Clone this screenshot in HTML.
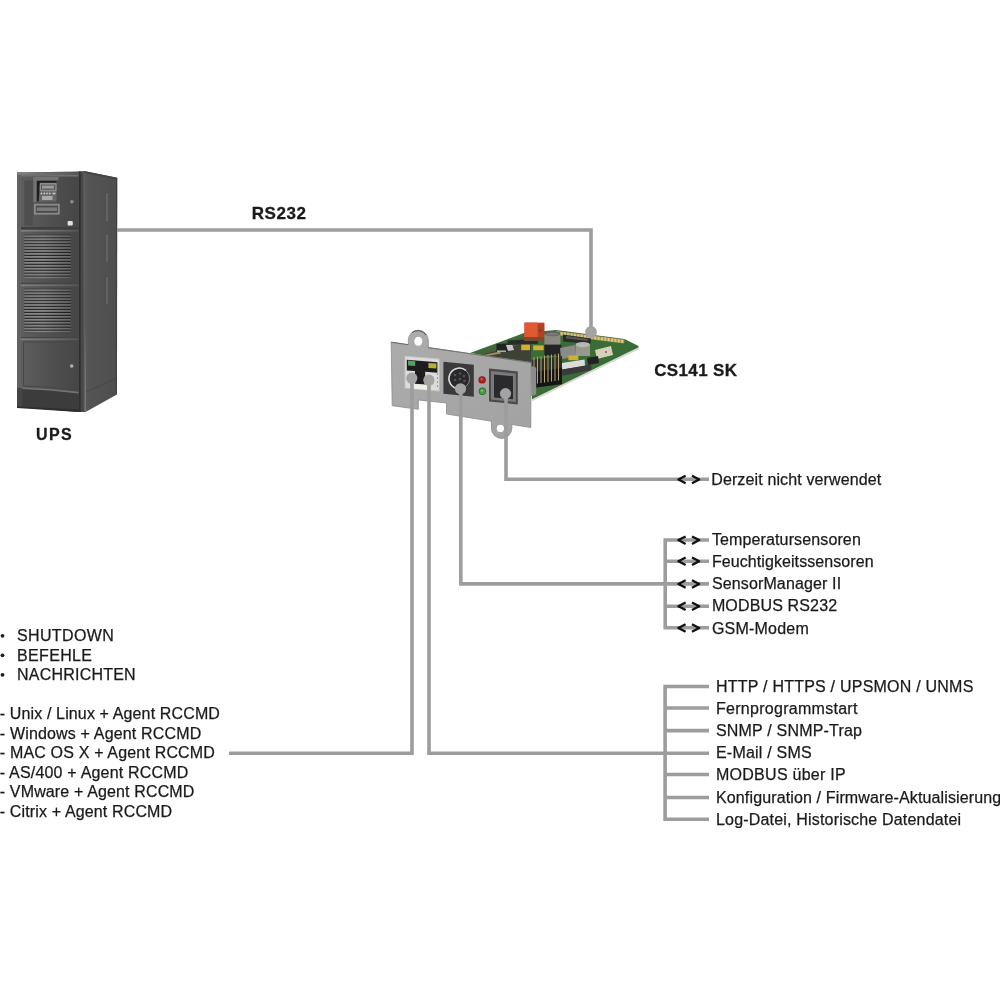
<!DOCTYPE html>
<html><head><meta charset="utf-8">
<style>
html,body{margin:0;padding:0;background:#fff;width:1000px;height:1000px;overflow:hidden}
svg{display:block;will-change:transform}
text{font-family:"Liberation Sans",sans-serif;fill:#1a1a1a;stroke:#1a1a1a;stroke-width:0.25px}
.b{font-weight:bold;stroke-width:0.3px}
</style></head><body>
<svg width="1000" height="1000" viewBox="0 0 1000 1000">
<defs>
  <linearGradient id="upsSide" x1="0" y1="0" x2="1" y2="0">
    <stop offset="0" stop-color="#5a5a5a"/><stop offset="0.15" stop-color="#545454"/><stop offset="1" stop-color="#4e4e4e"/>
  </linearGradient>
  <linearGradient id="panelG" x1="0" y1="0" x2="1" y2="0">
    <stop offset="0" stop-color="#5e5e5e"/><stop offset="0.5" stop-color="#505050"/><stop offset="1" stop-color="#464646"/>
  </linearGradient>
  <linearGradient id="hiG" x1="0" y1="0" x2="1" y2="0">
    <stop offset="0" stop-color="#808080"/><stop offset="0.6" stop-color="#6a6a6a"/><stop offset="1" stop-color="#555"/>
  </linearGradient>
  <linearGradient id="slatG" x1="0" y1="0" x2="0" y2="1">
    <stop offset="0" stop-color="#b4b4b4"/><stop offset="0.5" stop-color="#939393"/><stop offset="1" stop-color="#6a6a6a"/>
  </linearGradient>
  <pattern id="slats" x="0" y="234.4" width="50" height="2.95" patternUnits="userSpaceOnUse">
    <rect width="50" height="2.95" fill="url(#slatG)"/>
    <rect width="50" height="1.05" fill="#262626"/>
  </pattern>
  <pattern id="slats2" x="0" y="288.4" width="50" height="2.95" patternUnits="userSpaceOnUse">
    <rect width="50" height="2.95" fill="url(#slatG)"/>
    <rect width="50" height="1.05" fill="#262626"/>
  </pattern>
  <linearGradient id="slatFade" x1="0" y1="0" x2="1" y2="0">
    <stop offset="0" stop-color="#000" stop-opacity="0.05"/><stop offset="0.4" stop-color="#000" stop-opacity="0"/><stop offset="1" stop-color="#000" stop-opacity="0.25"/>
  </linearGradient>
</defs>
<!-- UPS -->
<g id="ups">
  <!-- side -->
  <polygon points="84,171 117.2,177.8 116.9,394.4 85.6,412" fill="url(#upsSide)"/>
  <polyline points="86.5,391.8 116.9,378" fill="none" stroke="#454545" stroke-width="0.9"/>
  <polygon points="84,171 117.2,177.8 117.2,179.6 84,173" fill="#444"/>
  <line x1="116.6" y1="178" x2="116.4" y2="394" stroke="#404040" stroke-width="1.2"/>
  <g fill="#626262" stroke="#4a4a4a" stroke-width="0.7">
    <rect x="105.4" y="192.5" width="3.4" height="29.5"/>
    <rect x="105.4" y="234" width="3.4" height="28.5"/>
    <rect x="105.4" y="276.3" width="3.4" height="28"/>
  </g>
  <!-- pillar -->
  <polygon points="78.5,171.5 84.5,171 85.6,412 78,412" fill="#484848"/>
  <rect x="78.6" y="171.5" width="2" height="240.5" fill="#2e2e2e"/>
  <line x1="84" y1="172" x2="84.4" y2="411" stroke="#666" stroke-width="1.1"/>
  <!-- front frame -->
  <polygon points="17,172.5 79,171.5 78.5,412 17,407" fill="#4a4a4a"/>
  <rect x="17" y="172.5" width="4" height="234.5" fill="#626262"/>
  <rect x="17.3" y="172.3" width="61.7" height="2.6" fill="url(#hiG)"/>
  <!-- top panel -->
  <rect x="21" y="175" width="57.5" height="52.6" fill="url(#panelG)"/>
  <rect x="21" y="175" width="57.5" height="1.6" fill="#707070"/>
  <rect x="24.4" y="180.4" width="8.4" height="45.2" fill="#4e4e4e"/>
  <rect x="33.4" y="177" width="25" height="3.2" fill="#747474"/>
  <rect x="33.4" y="177" width="3.4" height="25" fill="#747474"/>
  <rect x="36.8" y="180.9" width="19.8" height="20.7" fill="#666"/>
  <polygon points="36.8,180.9 56.6,180.9 56.6,182.8 40.2,182.8 38.6,201.6 36.8,201.6" fill="#1e1e1e"/>
  <rect x="39.7" y="183.1" width="16.9" height="8.1" rx="1" fill="#8e8e8e"/>
  <rect x="41" y="184.6" width="14.3" height="5.2" fill="#5a5a5a"/>
  <rect x="42" y="185.6" width="12" height="3" fill="#9a9a9a"/>
  <g fill="#c8c8c8"><circle cx="41.5" cy="193.5" r="0.9"/><circle cx="44.3" cy="193.5" r="0.9"/><circle cx="47" cy="193.5" r="0.9"/><circle cx="49.7" cy="193.5" r="0.9"/><rect x="52.5" y="192.7" width="3" height="1.6"/></g>
  <rect x="42" y="196" width="10.5" height="4" fill="#aaa"/>
  <rect x="34" y="203.8" width="25.7" height="10.8" fill="#8a8a8a"/>
  <rect x="35.9" y="205.6" width="22" height="7.2" fill="#4a4a4a"/>
  <rect x="36.8" y="207.4" width="20.2" height="3.6" fill="#7a7a7a"/>
  <circle cx="71.9" cy="201.8" r="1.8" fill="#8e8e8e"/>
  <rect x="67.6" y="221" width="5.2" height="4.6" rx="1" fill="#e0e0e0"/>
  <rect x="21" y="227.2" width="57.5" height="2.6" fill="#3e3e3e"/>
  <!-- grille panel 1 -->
  <rect x="21" y="229.8" width="57.5" height="53.2" fill="url(#panelG)"/>
  <rect x="21" y="229.8" width="57.5" height="1.8" fill="url(#hiG)"/>
  <rect x="24.4" y="234.4" width="46.4" height="44.4" fill="url(#slats)"/>
  <rect x="24.4" y="234.4" width="46.4" height="44.4" fill="url(#slatFade)"/>
  <rect x="21" y="282.8" width="57.5" height="1.4" fill="#444"/>
  <!-- grille panel 2 -->
  <rect x="21" y="284.4" width="57.5" height="53" fill="url(#panelG)"/>
  <rect x="21" y="284.4" width="57.5" height="1.8" fill="url(#hiG)"/>
  <rect x="24.4" y="288.4" width="46.4" height="44.8" fill="url(#slats2)"/>
  <rect x="24.4" y="288.4" width="46.4" height="44.8" fill="url(#slatFade)"/>
  <rect x="21" y="337" width="57.5" height="1.4" fill="#444"/>
  <!-- lower door -->
  <path d="M21,338.4 L78.5,338.4 L78.5,392.6 Q50,389.2 21,388.2 Z" fill="url(#panelG)"/>
  <rect x="21" y="338.4" width="57.5" height="1.8" fill="url(#hiG)"/>
  <path d="M23.5,342 L76,342 L76,389.8 Q50,386.8 23.5,386 Z" fill="none" stroke="#474747" stroke-width="1"/>
  <circle cx="71.7" cy="366" r="1.8" fill="#b0b0b0"/>
  <!-- base recess -->
  <path d="M21,388.2 Q50,389.2 78.5,392.6 L78.5,410 L21,407.2 Z" fill="#3c3c3c"/>
  <path d="M21,388.2 Q50,389.2 78.5,392.6" fill="none" stroke="#747474" stroke-width="1.6"/>
  <rect x="17" y="388" width="5.5" height="19" fill="#454545"/>
  <polygon points="17,406.5 78.5,409.6 78.5,412 17,408" fill="#2e2e2e"/>
</g>
<!-- CARD -->
<defs>
  <linearGradient id="plateG" x1="0" y1="0" x2="1" y2="1">
    <stop offset="0" stop-color="#acacac"/><stop offset="1" stop-color="#a2a2a2"/>
  </linearGradient>
  <pattern id="pins" x="0" y="0" width="3.2" height="10" patternUnits="userSpaceOnUse">
    <rect width="3.2" height="10" fill="#1e1e1e"/>
    <rect x="0.8" width="1.1" height="10" fill="#b8a060"/>
  </pattern>
</defs>
<g id="card">
  <!-- PCB -->
  <polygon points="470,353 524,333 556,330 624.5,339 638.5,346 638.5,348 532,399.5 531,362.5" fill="#3a6c38"/>
  <polygon points="638.5,347.2 638.5,349.4 532,401.2 532,399.2" fill="#d4d8cc"/>
  <polygon points="556,331 624.5,339.6 624,343.6 556,335" fill="#a89450"/>
  <line x1="557" y1="333" x2="624" y2="341.6" stroke="#d8c888" stroke-width="3" stroke-dasharray="2.2,1.2"/>
  <polygon points="476,354 524,337 532,342 531,362.5" fill="#46603a"/>
  <polygon points="486,353.5 531,342 531,362 486,356" fill="#3e4236"/>
  <polygon points="486,354.5 500,351.5 501,353.5 487,356" fill="#a09060"/>
  <!-- components -->
  <polygon points="496.4,344 508.4,343.5 508.4,351.8 496.4,352" fill="#222"/>
  <polygon points="506,345 512,344 514,350 508,351" fill="#c8c8c8"/><rect x="497" y="350.5" width="9" height="1.4" fill="#bbb"/>
  <polygon points="507.6,340.6 538,339 538,343.8 507.6,345" fill="#2a2a2a"/>
  <rect x="521.2" y="344.6" width="8.8" height="5.6" fill="#d4b030"/>
  <rect x="533.2" y="345.4" width="10.4" height="4.8" fill="#d4b030"/>
  <rect x="524.4" y="322.6" width="20" height="14.8" fill="#d24e2a"/>
  <rect x="524.4" y="322.6" width="13" height="14.8" fill="#dc5a34"/>
  <rect x="537.8" y="323.5" width="6.4" height="13.5" fill="#b84022"/>
  <circle cx="540.4" cy="330.4" r="1.4" fill="#3a5a50"/>
  <rect x="524" y="337" width="20" height="4" fill="#7a4a30"/>
  <rect x="544.4" y="334" width="16" height="11.4" fill="#8a8a82"/>
  <ellipse cx="552.4" cy="333.6" rx="8" ry="2.6" fill="#5a5a55"/>
  <ellipse cx="552.4" cy="334" rx="6.5" ry="1.8" fill="#777"/>
  <rect x="544.4" y="344.6" width="17" height="11.2" fill="#232323"/>
  <polygon points="563,334.5 591,338.5 590.5,344 563,341.5" fill="#2a2a2a"/>
  <polygon points="566,335.8 588,339 587.5,341 566,338.5" fill="#555"/>
  <polygon points="560,348 575,345 576,357 561,359" fill="#8a8a88"/>
  <rect x="575.6" y="345" width="14.4" height="11" fill="#98988f"/>
  <ellipse cx="582.8" cy="344.6" rx="7.2" ry="2.6" fill="#b8b8b0"/>
  <polygon points="595,350 611,346 613,355 597,359" fill="#d8d0b8"/>
  <circle cx="606" cy="352" r="1" fill="#666"/>
  <rect x="568.4" y="355.4" width="10" height="4.8" fill="#d0b030"/>
  <polygon points="587,358 598,356 599,363 588,365" fill="#222"/>
  <polygon points="561.8,363 584.6,359.5 585,366 562.2,369.5" fill="#dcdcdc"/>
  <polygon points="562.2,369.5 591,364.5 591.4,370 562.6,375.8" fill="#3a3a3a"/>
  <polygon points="532,360 562,356 562,384 532,388" fill="#2a3028"/>
  <polygon points="532,372 562,368 562,384 532,388" fill="#151515"/>
  <g stroke="#b8a468" stroke-width="1">
    <line x1="534" y1="357" x2="534" y2="384"/><line x1="537.5" y1="356.5" x2="537.5" y2="383.5"/>
    <line x1="541" y1="356" x2="541" y2="383"/><line x1="544.5" y1="355.5" x2="544.5" y2="382.5"/>
    <line x1="548" y1="355" x2="548" y2="382"/><line x1="551.5" y1="354.5" x2="551.5" y2="381.5"/>
    <line x1="555" y1="354" x2="555" y2="381"/><line x1="558.5" y1="353.5" x2="558.5" y2="380.5"/>
  </g>
  <polygon points="531.2,366 536.2,367.5 536.2,394.5 531.2,396" fill="#8c8c8c"/>
  <!-- plate -->
  <path d="M391.2,342.2 L408.3,344.7 L408.3,340.2 A10,10 0 0 1 428.3,340.2 L428.3,347.6 L531,362.5 L530.8,427.5 L511.8,424.5 L511.8,428.2 A10.2,10.2 0 0 1 491.4,428.2 L491.4,421.2 L446.5,414 L446.5,403 L418.3,400 L418.3,409.3 L392.2,405.7 Z" fill="url(#plateG)" stroke="#8a8a8a" stroke-width="0.8"/>
  <ellipse cx="418.3" cy="341.3" rx="4" ry="4.5" fill="#fff"/>
  <polyline points="391.2,342.2 408.3,344.7" fill="none" stroke="#6a6a6a" stroke-width="1"/>
  <polyline points="428.3,347.6 531,362.5" fill="none" stroke="#707070" stroke-width="1"/>
  <path d="M412,332.5 A10,10 0 0 1 426,335" fill="none" stroke="#555" stroke-width="1"/>
  <circle cx="500.4" cy="428.4" r="3.6" fill="#fff"/>
  <!-- RJ45 -->
  <polygon points="404.6,355.8 439.6,358.6 439.6,391.6 404.6,388.6" fill="#c4c4c2"/>
  <polygon points="405.4,356.8 438.8,359.4 438.8,390.6 405.4,387.8" fill="#dcdcd8"/>
  <polygon points="406.8,359.8 437.4,362.2 437.4,372.8 425.2,371.8 425.2,384.6 414.9,383.8 414.9,371 406.8,370.4" fill="#1e1c1e"/>
  <polygon points="408,360.6 415.2,361.2 415.2,366 408,365.4" fill="#5aa05a"/>
  <polygon points="428.4,363 436.4,363.6 436.4,368.6 428.4,368" fill="#b4b038"/>
  <polygon points="413.4,384 427,385 427,389.8 413.4,388.8" fill="#eeeeea"/>
  <g fill="#444"><circle cx="437.4" cy="374" r="0.6"/><circle cx="437.4" cy="378" r="0.6"/><circle cx="437.4" cy="382" r="0.6"/><circle cx="437.4" cy="386" r="0.6"/></g>
  <!-- mini DIN -->
  <g transform="matrix(1,0.1,0,1,0,-45)">
    <rect x="443.4" y="362.4" width="30.4" height="32" fill="#3a3a3c"/>
  </g>
  <circle cx="459.2" cy="378.5" r="10.4" fill="#29292b" stroke="#9a9a9a" stroke-width="0.8"/>
  <path d="M466,370.5 A10.4,10.4 0 1 0 462,388.6" fill="none" stroke="#d8d8d8" stroke-width="1.6"/>
  <g fill="#555"><circle cx="455" cy="375" r="1.3"/><circle cx="460" cy="373.5" r="1.3"/><circle cx="464" cy="376" r="1.3"/><circle cx="455" cy="380" r="1.3"/><circle cx="460" cy="379" r="1.3"/><circle cx="464.5" cy="381" r="1.3"/></g>
  <!-- LEDs -->
  <circle cx="482.1" cy="379.9" r="3.7" fill="#8a1a18"/><circle cx="482.1" cy="379.9" r="2.8" fill="#b02420"/>
  <circle cx="481.6" cy="379.2" r="1.1" fill="#d85848"/>
  <circle cx="482.4" cy="391.3" r="3.7" fill="#2a7028"/><circle cx="482.4" cy="391.3" r="2.8" fill="#48a040"/>
  <circle cx="481.9" cy="390.6" r="1.1" fill="#80c870"/>
  <!-- RJ11 -->
  <g transform="matrix(1,0.1,0,1,0,-50)">
    <rect x="489" y="369.6" width="28.8" height="33" fill="#4a4a4c"/>
    <rect x="491" y="372" width="24.8" height="28.5" fill="#7a7a7c"/>
    <rect x="494" y="375" width="19" height="23" fill="#2a2a2c"/>
  </g>
</g>
<!-- connector lines -->
<g fill="none" stroke="#9d9d9d" stroke-width="3.6">
  <polyline points="117,230 591,230 591,332"/>
  <polyline points="412,378.2 412,753.2 229,753.2"/>
  <polyline points="429,380.2 429,753.2 650,753.2"/>
  <polyline points="460.8,388.8 460.8,583.9 650,583.9"/>
  <polyline points="506,393.6 506,479.2 709,479.2"/>
  <!-- sensor bracket -->
  <polyline points="709,540 665.2,540 665.2,627.8 709,627.8"/>
  <line x1="650" y1="583.9" x2="709" y2="583.9"/>
  <line x1="665" y1="561.2" x2="709" y2="561.2"/>
  <line x1="665" y1="606.2" x2="709" y2="606.2"/>
  <!-- network bracket -->
  <polyline points="709,686.5 665.1,686.5 665.1,819.3 709,819.3"/>
  <line x1="650" y1="753.3" x2="709" y2="753.3"/>
  <line x1="665" y1="708" x2="709" y2="708"/>
  <line x1="665" y1="730.6" x2="709" y2="730.6"/>
  <line x1="665" y1="774.5" x2="709" y2="774.5"/>
  <line x1="665" y1="797.5" x2="709" y2="797.5"/>
</g>
<g fill="#a3a3a3">
  <circle cx="591" cy="332" r="5.9"/>
  <circle cx="411.8" cy="378.2" r="5.6"/>
  <circle cx="428.9" cy="380.2" r="5.6"/>
  <circle cx="460.5" cy="388.8" r="5.6"/>
  <circle cx="505.5" cy="393.6" r="5.6"/>
</g>
<!-- arrows -->
<g fill="none" stroke="#111" stroke-width="2.2" stroke-linejoin="miter">
  <path id="arr" fill="none" stroke="#111" stroke-width="2.3" stroke-linejoin="round" d="M685.6,536.4 L678.4,540.1 L685.6,543.9 M692,536.4 L699.2,540.1 L692,543.9"/>
</g>
<g><use href="#arr" transform="translate(0,-60.69999999999999)"/><use href="#arr" transform="translate(0,21.200000000000045)"/><use href="#arr" transform="translate(0,43.89999999999998)"/><use href="#arr" transform="translate(0,66.20000000000005)"/><use href="#arr" transform="translate(0,87.79999999999995)"/></g>

<!-- texts -->
<text class="b" x="251.7" y="218.8" font-size="17" textLength="54.2" lengthAdjust="spacing">RS232</text>
<text class="b" x="35.9" y="440" font-size="16" textLength="35.8" lengthAdjust="spacing">UPS</text>
<text class="b" x="654.2" y="376.2" font-size="17" textLength="82.9" lengthAdjust="spacing">CS141 SK</text>
<g font-size="16">
<text x="711.2" y="484.5" textLength="170.1" lengthAdjust="spacing">Derzeit nicht verwendet</text>
<text x="711.9" y="545" textLength="148.9" lengthAdjust="spacing">Temperatursensoren</text>
<text x="711.9" y="566.9" textLength="161.7" lengthAdjust="spacing">Feuchtigkeitssensoren</text>
<text x="711.9" y="589.1" textLength="129.2" lengthAdjust="spacing">SensorManager II</text>
<text x="711.9" y="611.4" textLength="125.2" lengthAdjust="spacing">MODBUS RS232</text>
<text x="711.9" y="633.6" textLength="96.9" lengthAdjust="spacing">GSM-Modem</text>

<text x="716" y="691.5" textLength="257.3" lengthAdjust="spacing">HTTP / HTTPS / UPSMON / UNMS</text>
<text x="716" y="713.7" textLength="141.4" lengthAdjust="spacing">Fernprogrammstart</text>
<text x="716" y="735.9" textLength="146.0" lengthAdjust="spacing">SNMP / SNMP-Trap</text>
<text x="716" y="758.1" textLength="95.6" lengthAdjust="spacing">E-Mail / SMS</text>
<text x="716" y="780.3" textLength="129.7" lengthAdjust="spacing">MODBUS über IP</text>
<text x="716" y="802.5" textLength="285.2" lengthAdjust="spacing">Konfiguration / Firmware-Aktualisierung</text>
<text x="716" y="824.7" textLength="245.1" lengthAdjust="spacing">Log-Datei, Historische Datendatei</text>

<text x="17" y="641" textLength="96.7" lengthAdjust="spacing">SHUTDOWN</text>
<text x="17" y="660.6" textLength="75.0" lengthAdjust="spacing">BEFEHLE</text>
<text x="17" y="680.2" textLength="118.6" lengthAdjust="spacing">NACHRICHTEN</text>

<text x="-0.2" y="719.2" textLength="220.1" lengthAdjust="spacing">- Unix / Linux + Agent RCCMD</text>
<text x="-0.2" y="738.7" textLength="201.5" lengthAdjust="spacing">- Windows + Agent RCCMD</text>
<text x="-0.2" y="758.2" textLength="215.1" lengthAdjust="spacing">- MAC OS X + Agent RCCMD</text>
<text x="-0.2" y="777.7" textLength="188.6" lengthAdjust="spacing">- AS/400 + Agent RCCMD</text>
<text x="-0.2" y="797.2" textLength="194.6" lengthAdjust="spacing">- VMware + Agent RCCMD</text>
<text x="-0.2" y="816.7" textLength="172.3" lengthAdjust="spacing">- Citrix + Agent RCCMD</text>
</g>
<g fill="#1e1e1e">
<circle cx="2.5" cy="635.8" r="1.9"/>
<circle cx="2.5" cy="655.3" r="1.9"/>
<circle cx="2.5" cy="674.8" r="1.9"/>
</g>
</svg>
</body></html>
